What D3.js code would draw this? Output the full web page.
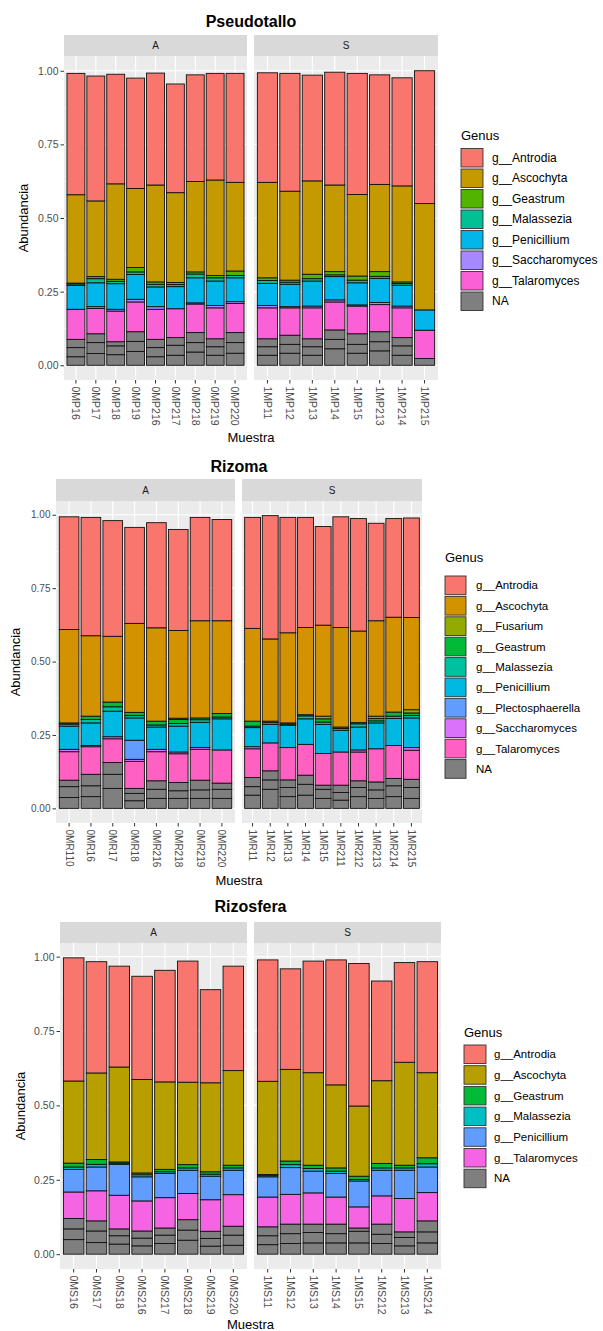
<!DOCTYPE html>
<html>
<head>
<meta charset="utf-8">
<script src="https://cdn.jsdelivr.net/npm/d3@7"></script>
<style>
  body { margin: 0; background: #fff; }
  svg { display: block; }
  text { font-family: "Liberation Sans", Arial, sans-serif; }
</style>
</head>
<body>
<svg id="chart" width="603" height="1331"></svg>
<script>
// ---------------- Pseudotallo ----------------
const pseudoSamples = ["0MP16","0MP17","0MP18","0MP19","0MP216","0MP217","0MP218","0MP219","0MP220",
                       "1MP11","1MP12","1MP13","1MP14","1MP15","1MP213","1MP214","1MP215"];
const pseudoFacets = ["A","A","A","A","A","A","A","A","A","S","S","S","S","S","S","S","S"];
const pseudoGenus = ["g__Antrodia","g__Ascochyta","g__Geastrum","g__Malassezia","g__Penicillium","g__Saccharomyces","g__Talaromyces","NA"];
const pseudoColors = ["#F8766D","#C49A00","#53B400","#00C094","#00B6EB","#A58AFF","#FB61D7","#7F7F7F"];
const pseudoAntrodia      = [0.412,0.424,0.372,0.375,0.380,0.369,0.362,0.362,0.370, 0.372,0.400,0.359,0.383,0.411,0.372,0.367,0.451];
const pseudoAscochyta     = [0.300,0.257,0.324,0.268,0.329,0.305,0.307,0.324,0.301, 0.324,0.302,0.317,0.294,0.277,0.296,0.326,0.361];
const pseudoGeastrum      = [0.003,0.007,0.007,0.015,0.008,0.007,0.007,0.008,0.015, 0.009,0.007,0.015,0.011,0.014,0.016,0.005,0];
const pseudoMalassezia    = [0.005,0.014,0.008,0.009,0.009,0.007,0.013,0.011,0.008, 0.010,0.007,0.008,0.006,0.009,0.007,0.006,0];
const pseudoPenicillium   = [0.081,0.081,0.087,0.084,0.067,0.075,0.085,0.083,0.081, 0.075,0.076,0.085,0.079,0.075,0.082,0.071,0.069];
const pseudoSaccharomyces = [0,0.006,0.006,0.009,0.009,0,0.004,0.008,0.006, 0.008,0.004,0.006,0.007,0.004,0.007,0.006,0];
const pseudoTalaromyces   = [0.102,0.086,0.104,0.101,0.102,0.098,0.097,0.105,0.099, 0.105,0.093,0.105,0.095,0.094,0.092,0.101,0.096];
const pseudoNA = [[0.029,0.031,0.028],[0.040,0.037,0.030],[0.036,0.030,0.014],[0.047,0.034,0.033],[0.029,0.031,0.028],
                  [0.034,0.034,0.026],[0.045,0.032,0.034],[0.034,0.029,0.027],[0.041,0.036,0.034],
                  [0.034,0.029,0.027],[0.041,0.030,0.031],[0.034,0.029,0.027],[0.056,0.032,0.032],[0.041,0.030,0.036],
                  [0.049,0.031,0.034],[0.034,0.032,0.028],[0.023]];

// ---------------- Rizoma ----------------
const rizomaSamples = ["0MR110","0MR16","0MR17","0MR18","0MR216","0MR218","0MR219","0MR220",
                       "1MR11","1MR12","1MR13","1MR14","1MR15","1MR211","1MR212","1MR213","1MR214","1MR215"];
const rizomaFacets = ["A","A","A","A","A","A","A","A","S","S","S","S","S","S","S","S","S","S"];
const rizomaGenus = ["g__Antrodia","g__Ascochyta","g__Fusarium","g__Geastrum","g__Malassezia","g__Penicillium","g__Plectosphaerella","g__Saccharomyces","g__Talaromyces","NA"];
const rizomaColors = ["#F8766D","#D39200","#93AA00","#00BA38","#00C19F","#00B9E3","#619CFF","#DB72FB","#FF61C3","#7F7F7F"];
const rizomaAntrodia         = [0.384,0.403,0.394,0.327,0.358,0.344,0.352,0.345, 0.378,0.420,0.393,0.375,0.336,0.377,0.383,0.332,0.336,0.339];
const rizomaAscochyta        = [0.318,0.274,0.224,0.303,0.318,0.299,0.331,0.316, 0.316,0.280,0.307,0.297,0.310,0.339,0.312,0.325,0.323,0.314];
const rizomaFusarium         = [0,0,0,0,0,0.004,0,0, 0,0,0,0,0.009,0,0,0.008,0,0.011];
const rizomaGeastrum         = [0.004,0.011,0.016,0.011,0.013,0.014,0.006,0.012, 0.017,0.005,0.004,0.004,0.011,0.005,0.004,0.008,0.014,0.009];
const rizomaMalassezia       = [0.007,0.012,0.015,0.008,0.007,0.009,0.009,0.006, 0.005,0.006,0.004,0.010,0.008,0.006,0.011,0.007,0.008,0.008];
const rizomaPenicillium      = [0.079,0.077,0.087,0.076,0.076,0.088,0.086,0.106, 0.065,0.063,0.076,0.087,0.099,0.074,0.078,0.088,0.092,0.101];
const rizomaPlectosphaerella = [0,0,0,0.065,0,0,0,0, 0,0,0,0,0,0,0,0,0,0];
const rizomaSaccharomyces    = [0.008,0.004,0.007,0.007,0.008,0.006,0.006,0, 0.007,0,0,0,0,0,0.007,0,0,0.009];
const rizomaTalaromyces      = [0.097,0.094,0.081,0.092,0.099,0.098,0.105,0.113, 0.098,0.095,0.110,0.105,0.108,0.113,0.098,0.113,0.112,0.099];
const rizomaNA = [[0.037,0.037,0.022],[0.040,0.037,0.039],[0.068,0.048,0.040],[0.026,0.025,0.017],[0.034,0.031,0.029],
                  [0.034,0.026,0.028],[0.034,0.029,0.033],[0.034,0.031,0.021],
                  [0.045,0.029,0.031],[0.065,0.032,0.031],[0.040,0.031,0.026],[0.045,0.037,0.031],[0.034,0.031,0.014],
                  [0.028,0.026,0.025],[0.040,0.031,0.023],[0.034,0.029,0.027],[0.040,0.037,0.025],[0.034,0.037,0.028]];

// ---------------- Rizosfera ----------------
const rizosferaSamples = ["0MS16","0MS17","0MS18","0MS216","0MS217","0MS218","0MS219","0MS220",
                          "1MS11","1MS12","1MS13","1MS14","1MS15","1MS212","1MS213","1MS214"];
const rizosferaFacets = ["A","A","A","A","A","A","A","A","S","S","S","S","S","S","S","S"];
const rizosferaGenus = ["g__Antrodia","g__Ascochyta","g__Geastrum","g__Malassezia","g__Penicillium","g__Talaromyces","NA"];
const rizosferaColors = ["#F8766D","#B79F00","#00BA38","#00BFC4","#619CFF","#F564E3","#7F7F7F"];
const rizosferaAntrodia    = [0.414,0.374,0.339,0.347,0.375,0.407,0.313,0.351, 0.408,0.338,0.375,0.420,0.479,0.335,0.335,0.373];
const rizosferaAscochyta   = [0.276,0.291,0.319,0.314,0.294,0.277,0.299,0.318, 0.313,0.308,0.311,0.279,0.236,0.278,0.346,0.286];
const rizosferaGeastrum    = [0.013,0.016,0.004,0.006,0.008,0.011,0.008,0.009, 0.004,0.012,0.011,0.011,0.011,0.015,0.009,0.020];
const rizosferaMalassezia  = [0.008,0.009,0.004,0.007,0.006,0.008,0.007,0.008, 0.004,0.010,0.009,0.008,0.005,0.008,0.008,0.011];
const rizosferaPenicillium = [0.076,0.080,0.104,0.081,0.081,0.078,0.079,0.082, 0.068,0.090,0.073,0.079,0.087,0.086,0.095,0.086];
const rizosferaTalaromyces = [0.089,0.101,0.113,0.101,0.102,0.088,0.106,0.106, 0.100,0.100,0.105,0.091,0.071,0.095,0.112,0.095];
const rizosferaNA = [[0.049,0.036,0.035],[0.039,0.039,0.034],[0.034,0.028,0.023],[0.028,0.026,0.024],[0.036,0.028,0.024],
                     [0.047,0.034,0.035],[0.027,0.026,0.024],[0.030,0.034,0.030],
                     [0.032,0.030,0.030],[0.036,0.033,0.032],[0.038,0.035,0.028],[0.038,0.031,0.032],[0.038,0.039,0.011],
                     [0.036,0.031,0.034],[0.028,0.028,0.019],[0.038,0.037,0.037]];

const yTicks = [0, 0.25, 0.5, 0.75, 1];
const facetNames = ["A", "S"];

const svg = d3.select("#chart");

function drawChart(cfg) {
  const g = svg.append("g");

  // Stack each sample bottom-up: NA first, Antrodia last (on top).
  const stacks = cfg.samples.map((s, i) => {
    let acc = 0;
    const segs = [];
    for (let k = cfg.genus.length - 1; k >= 0; k--) {
      const v = cfg.series[k][i];
      const parts = Array.isArray(v) ? v : [v];
      parts.forEach(p => {
        if (p > 0) { segs.push({ y0: acc, y1: acc + p, fill: cfg.colors[k] }); acc += p; }
      });
    }
    return { sample: s, facet: cfg.facets[i], segs, total: acc };
  });

  const yMax = d3.max(stacks, d => d.total);
  const y = d3.scaleLinear()
    .domain([-0.05 * yMax, 1.05 * yMax])
    .range([cfg.panelBottom, cfg.panelTop]);

  // Plot title
  g.append("text")
    .attr("x", (cfg.panelX[0][0] + cfg.panelX[1][1]) / 2)
    .attr("y", cfg.titleY)
    .attr("text-anchor", "middle")
    .attr("font-size", 16)
    .attr("font-weight", "bold")
    .attr("fill", "#000")
    .text(cfg.title);

  facetNames.forEach((f, fi) => {
    const [x0, x1] = cfg.panelX[fi];
    const list = stacks.filter(d => d.facet === f);
    const x = d3.scaleBand()
      .domain(list.map(d => d.sample))
      .range([x0, x1])
      .paddingInner(0.1)
      .paddingOuter(0.15);

    // strip
    g.append("rect")
      .attr("x", x0).attr("y", cfg.stripTop)
      .attr("width", x1 - x0).attr("height", cfg.panelTop - cfg.stripTop)
      .attr("fill", "#D9D9D9");
    g.append("text")
      .attr("x", (x0 + x1) / 2)
      .attr("y", (cfg.stripTop + cfg.panelTop) / 2)
      .attr("dy", "0.35em")
      .attr("text-anchor", "middle")
      .attr("font-size", 10)
      .attr("fill", "#1A1A1A")
      .text(f);

    // panel background and grid
    g.append("rect")
      .attr("x", x0).attr("y", cfg.panelTop)
      .attr("width", x1 - x0).attr("height", cfg.panelBottom - cfg.panelTop)
      .attr("fill", "#EBEBEB");
    const minor = d3.range(0, 4).map(i => 0.125 + i * 0.25);
    g.selectAll(null).data(minor).join("line")
      .attr("x1", x0).attr("x2", x1)
      .attr("y1", d => y(d)).attr("y2", d => y(d))
      .attr("stroke", "#fff").attr("stroke-width", 0.55);
    g.selectAll(null).data(yTicks).join("line")
      .attr("x1", x0).attr("x2", x1)
      .attr("y1", d => y(d)).attr("y2", d => y(d))
      .attr("stroke", "#fff").attr("stroke-width", 1.1);
    g.selectAll(null).data(list).join("line")
      .attr("x1", d => x(d.sample) + x.bandwidth() / 2)
      .attr("x2", d => x(d.sample) + x.bandwidth() / 2)
      .attr("y1", cfg.panelTop).attr("y2", cfg.panelBottom)
      .attr("stroke", "#fff").attr("stroke-width", 1.1);

    // stacked bars
    const bars = g.selectAll(null).data(list).join("g");
    bars.selectAll("rect").data(d => d.segs.map(s => ({ ...s, sample: d.sample }))).join("rect")
      .attr("x", d => x(d.sample))
      .attr("width", x.bandwidth())
      .attr("y", d => y(d.y1))
      .attr("height", d => y(d.y0) - y(d.y1))
      .attr("fill", d => d.fill)
      .attr("stroke", "#111")
      .attr("stroke-width", 0.9);

    // x axis
    const xa = g.append("g")
      .attr("transform", `translate(0,${cfg.panelBottom})`)
      .call(d3.axisBottom(x).tickSize(3.5).tickSizeOuter(0));
    xa.select(".domain").remove();
    xa.selectAll(".tick line").attr("stroke", "#333");
    xa.selectAll(".tick text")
      .attr("transform", "rotate(90)")
      .attr("x", 6.5).attr("y", 0).attr("dy", "0.35em")
      .style("text-anchor", "start")
      .attr("font-size", cfg.tickFont)
      .attr("font-family", "Liberation Sans, Arial, sans-serif")
      .attr("fill", "#4D4D4D");

    // y axis on the first facet only
    if (fi === 0) {
      const ya = g.append("g")
        .attr("transform", `translate(${x0},0)`)
        .call(d3.axisLeft(y).tickValues(yTicks).tickFormat(d3.format(".2f")).tickSize(3.5).tickPadding(2));
      ya.select(".domain").remove();
      ya.selectAll(".tick line").attr("stroke", "#333");
      ya.selectAll(".tick text")
        .attr("font-size", cfg.tickFont)
        .attr("font-family", "Liberation Sans, Arial, sans-serif")
        .attr("fill", "#4D4D4D");
    }
  });

  // axis titles
  g.append("text")
    .attr("x", (cfg.panelX[0][0] + cfg.panelX[1][1]) / 2)
    .attr("y", cfg.xTitleY)
    .attr("text-anchor", "middle")
    .attr("font-size", 13)
    .attr("fill", "#000")
    .text("Muestra");
  g.append("text")
    .attr("transform", `translate(${cfg.yTitleX},${(cfg.panelTop + cfg.panelBottom) / 2}) rotate(-90)`)
    .attr("dy", "0.35em")
    .attr("text-anchor", "middle")
    .attr("font-size", 13)
    .attr("fill", "#000")
    .text("Abundancia");

  // legend
  const L = cfg.legend;
  g.append("text")
    .attr("x", L.x).attr("y", L.titleY)
    .attr("font-size", 13)
    .attr("fill", "#000")
    .text("Genus");
  const items = g.selectAll(null).data(cfg.genus).join("g")
    .attr("transform", (d, i) => `translate(${L.x},${L.y0 + i * L.step})`);
  items.append("rect")
    .attr("width", L.w).attr("height", L.h)
    .attr("fill", (d, i) => cfg.colors[i])
    .attr("stroke", "#333").attr("stroke-width", 0.9);
  items.append("text")
    .attr("x", L.textX - L.x)
    .attr("y", L.h / 2)
    .attr("dy", "0.35em")
    .attr("font-size", L.font)
    .attr("fill", "#000")
    .text(d => d);
}

drawChart({
  title: "Pseudotallo", titleY: 27,
  samples: pseudoSamples, facets: pseudoFacets, genus: pseudoGenus, colors: pseudoColors,
  series: [pseudoAntrodia, pseudoAscochyta, pseudoGeastrum, pseudoMalassezia, pseudoPenicillium,
           pseudoSaccharomyces, pseudoTalaromyces, pseudoNA],
  stripTop: 35, panelTop: 56, panelBottom: 380,
  panelX: [[64, 247], [254, 438]],
  tickFont: 10.5, xTitleY: 442, yTitleX: 23,
  legend: { x: 461, titleY: 140, y0: 148.5, step: 20.5, w: 22, h: 18.5, textX: 492, font: 12 }
});

drawChart({
  title: "Rizoma", titleY: 472,
  samples: rizomaSamples, facets: rizomaFacets, genus: rizomaGenus, colors: rizomaColors,
  series: [rizomaAntrodia, rizomaAscochyta, rizomaFusarium, rizomaGeastrum, rizomaMalassezia,
           rizomaPenicillium, rizomaPlectosphaerella, rizomaSaccharomyces, rizomaTalaromyces, rizomaNA],
  stripTop: 479, panelTop: 501, panelBottom: 823,
  panelX: [[56, 235], [242, 422]],
  tickFont: 10, xTitleY: 885, yTitleX: 15,
  legend: { x: 445, titleY: 562, y0: 576, step: 20.4, w: 21, h: 18.7, textX: 476, font: 11.5 }
});

drawChart({
  title: "Rizosfera", titleY: 912,
  samples: rizosferaSamples, facets: rizosferaFacets, genus: rizosferaGenus, colors: rizosferaColors,
  series: [rizosferaAntrodia, rizosferaAscochyta, rizosferaGeastrum, rizosferaMalassezia,
           rizosferaPenicillium, rizosferaTalaromyces, rizosferaNA],
  stripTop: 922, panelTop: 943, panelBottom: 1269,
  panelX: [[60, 247], [254, 441]],
  tickFont: 10.5, xTitleY: 1329, yTitleX: 20,
  legend: { x: 464, titleY: 1037, y0: 1045, step: 20.7, w: 22, h: 18.5, textX: 494, font: 11.5 }
});
</script>
</body>
</html>
